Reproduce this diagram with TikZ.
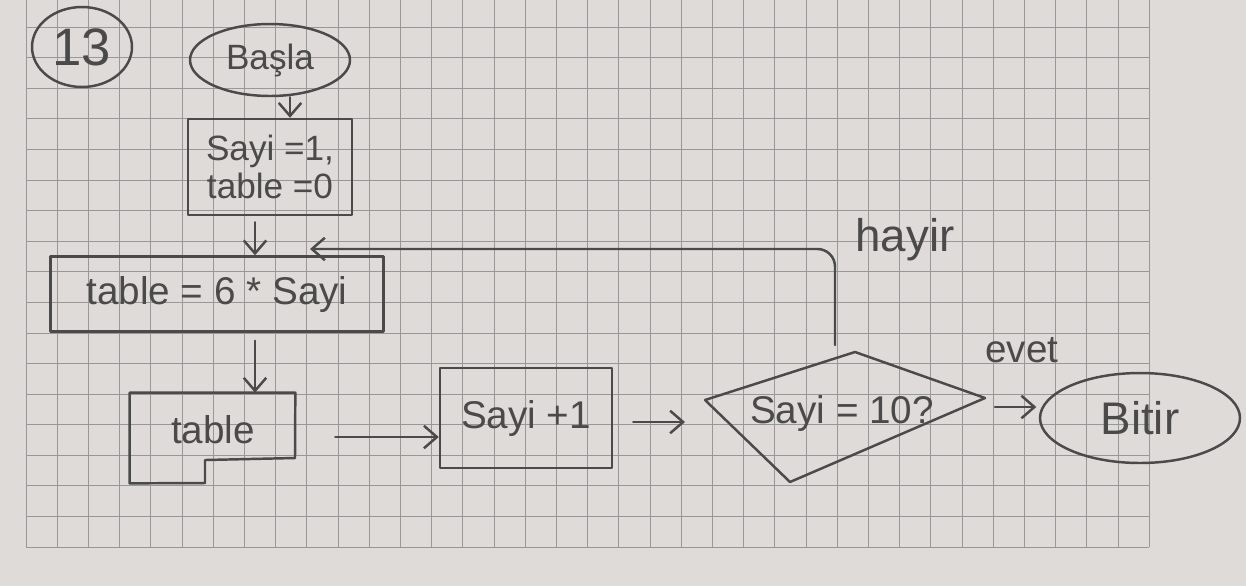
\documentclass[tikz,border=0pt]{standalone}
\usepackage{fontspec}
\setmainfont{Liberation Sans}
\usetikzlibrary{shapes.geometric,arrows.meta}
\definecolor{paper}{HTML}{DEDBD8}
\definecolor{gridc}{HTML}{9A9896}
\definecolor{pencil}{HTML}{4A4A4A}
\newcommand{\fs}[1]{\fontsize{#1}{#1}\selectfont}
\tikzset{
  pen/.style={draw=pencil, line width=1.4pt, line join=round, line cap=round},
  lbl/.style={text=pencil, inner sep=0pt},
  arr/.style={pen, -{Straight Barb[length=2.6mm,width=4.5mm]}},
  gridline/.style={draw=gridc, line width=0.45pt},
}
\begin{document}
\begin{tikzpicture}[x=0.02cm,y=-0.02cm]
\useasboundingbox (0,0) rectangle (1246,586);
\fill[paper] (0,0) rectangle (1246,586);
% graph paper grid
\foreach \i in {0,...,36} {
  \draw[gridline] (26+\i*31.2,0) -- (26+\i*31.2,547);
}
\foreach \j in {0,...,17} {
  \draw[gridline] (26,27+\j*30.59) -- (1149,27+\j*30.59);
}
% nodes
\node[pen, ellipse, minimum width=2cm, minimum height=1.6cm, lbl] (num) at (82,47) {\fs{30}13};
\node[pen, ellipse, minimum width=3.2cm, minimum height=1.44cm, lbl] (start) at (270,60) {\fs{20}Başla};
\node[pen, rectangle, minimum width=3.28cm, minimum height=1.92cm, lbl, align=center] (init) at (270,167) {\fs{20}Sayi =1,\\[2pt]\fs{20}table =0};
\node[pen, rectangle, minimum width=6.66cm, minimum height=1.5cm, lbl] (proc) at (217,294) {\fs{22}table = 6 * Sayi};
\node[minimum width=3.3cm, minimum height=1.8cm, inner sep=0pt] (out) at (212.5,438) {};
\node[lbl] (outtxt) at (213,430) {\fs{22}table};
\draw[pen] (out.north west) -- (out.north east) -- (295,458) -- (205,460) -- (205,483) -- (out.south west) -- cycle;
\node[pen, rectangle, minimum width=3.44cm, minimum height=2cm, lbl] (inc) at (526,418) {\fs{22}Sayi +1};
\coordinate (dl) at (705,400);
\coordinate (dt) at (855,352);
\coordinate (dr) at (985,398);
\coordinate (db) at (790,482);
\draw[pen] (dl) -- (dt) -- (dr) -- (db) -- cycle;
\node[lbl] (dec) at (842,413) {\fs{22}Sayi = 10?};
\node[pen, ellipse, minimum width=4cm, minimum height=1.8cm, lbl] (end) at (1140,418) {\fs{26}Bitir};
% connectors
\draw[arr] (start.south -| 290,0) -- (init.north -| 290,0);
\draw[arr] (init.south -| 255,0) ++(0,6) -- (proc.north -| 255,0);
\draw[arr] (proc.south -| 255,0) ++(0,8) -- (out.north -| 255,0);
\draw[arr, shorten <=0.8cm] (out.east |- 0,437) -- (inc.west |- 0,437);
\draw[arr, shorten <=0.4cm, shorten >=0.4cm] (inc.east |- 0,422) -- (dl |- 0,422);
\draw[arr, shorten <=0.2cm, shorten >=0.05cm] (dr |- 0,407) -- (end.west |- 0,407);
\coordinate (loopend) at (310,249);
\draw[arr, rounded corners=10pt] (835,345) -- (835,249) -- (loopend);
\node[lbl] (hayir) at (905,240) {\fs{26}hayir};
\node[lbl] (evet) at (1022,350) {\fs{22}evet};
\end{tikzpicture}
\end{document}
